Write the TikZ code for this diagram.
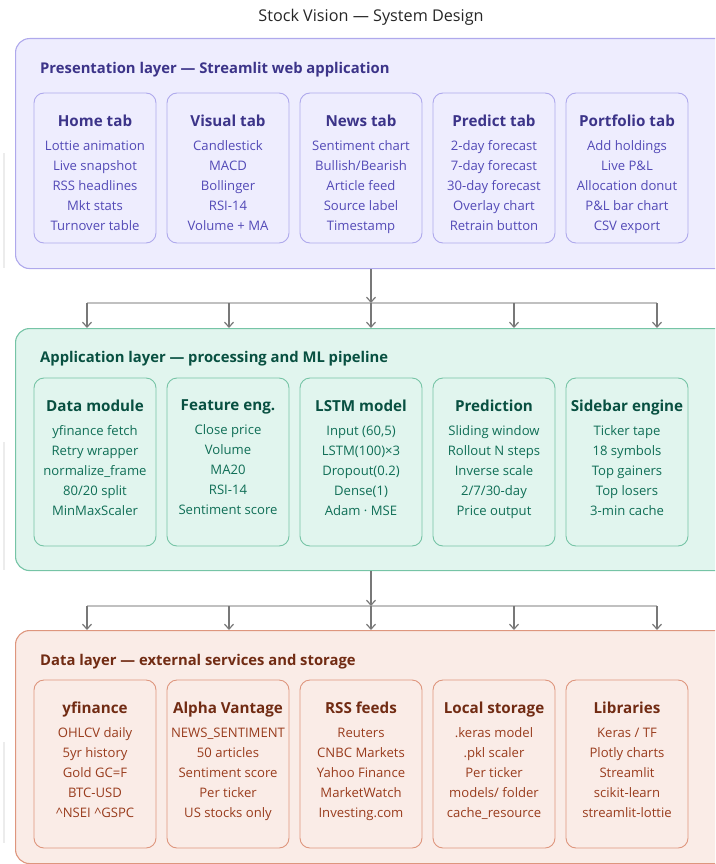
\documentclass[tikz,border=0pt]{standalone}
\usepackage{fontspec}
\setmainfont{Open Sans}
\usetikzlibrary{arrows.meta, positioning}
\definecolor{presfill}{RGB}{238,237,254}
\definecolor{presline}{RGB}{175,169,236}
\definecolor{preshead}{RGB}{60,52,137}
\definecolor{prestext}{RGB}{83,74,183}
\definecolor{appfill}{RGB}{225,245,238}
\definecolor{appline}{RGB}{118,196,166}
\definecolor{apphead}{RGB}{8,80,65}
\definecolor{apptext}{RGB}{15,110,86}
\definecolor{datafill}{RGB}{250,236,231}
\definecolor{dataline}{RGB}{222,150,126}
\definecolor{datahead}{RGB}{113,43,19}
\definecolor{datatext}{RGB}{153,60,29}
\definecolor{flowgray}{RGB}{120,120,120}
\definecolor{busgray}{RGB}{192,192,192}
\newcommand{\cardhead}[2]{{\color{#1}\bfseries\fontsize{15.2}{20}\selectfont #2}}

\begin{document}
\begin{tikzpicture}[x=1pt, y=-1pt,
  layer/.style={draw, rounded corners=14pt, line width=1.1pt, minimum width=740pt, anchor=north west, inner sep=0pt},
  card/.style={draw, rounded corners=10pt, line width=0.9pt, minimum width=122pt, minimum height=#1, inner sep=0pt},
  card/.default=168pt,
  cardtxt/.style={align=center, inner sep=0pt, font=\fontsize{13.1}{20}\selectfont},
  laytitle/.style={anchor=west, inner sep=0pt, font=\bfseries\fontsize{14.8}{18}\selectfont},
  flow/.style={-{Straight Barb[length=5pt, width=9pt]}, line width=1.2pt, flowgray},
  bus/.style={line width=1.2pt, busgray}
]
\useasboundingbox (0,0) rectangle (715,864);
\clip (0,0) rectangle (715,864);

\node[font=\fontsize{16.2}{18}\selectfont, text=black!85] (title) at (371,17) {Stock Vision — System Design};

% faint marks on the left edge
\draw[gray!15, line width=1.5pt] (4,153) -- (4,268);
\draw[gray!15, line width=1.5pt] (4,442) -- (4,570);
\draw[gray!15, line width=1.5pt] (4,742) -- (4,843);

% presentation layer
\node[layer, fill=presfill, draw=presline, minimum height=230pt] (pres) at (15,38) {};
\node[laytitle, text=preshead] (prestitle) at (40,70) {Presentation layer — Streamlit web application};

\node[card=150pt, fill=presfill, draw=presline] (home) at (95,168) {};
\node[cardtxt, text=prestext, below=22pt of home.north] (hometxt)
  {\cardhead{preshead}{Home tab}\\[4pt] Lottie animation\\ Live snapshot\\ RSS headlines\\ Mkt stats\\ Turnover table};
\node[card=150pt, fill=presfill, draw=presline] (visual) at (228,168) {};
\node[cardtxt, text=prestext, below=22pt of visual.north] (visualtxt)
  {\cardhead{preshead}{Visual tab}\\[4pt] Candlestick\\ MACD\\ Bollinger\\ RSI-14\\ Volume + MA};
\node[card=150pt, fill=presfill, draw=presline] (news) at (361,168) {};
\node[cardtxt, text=prestext, below=22pt of news.north] (newstxt)
  {\cardhead{preshead}{News tab}\\[4pt] Sentiment chart\\ Bullish/Bearish\\ Article feed\\ Source label\\ Timestamp};
\node[card=150pt, fill=presfill, draw=presline] (predict) at (494,168) {};
\node[cardtxt, text=prestext, below=22pt of predict.north] (predicttxt)
  {\cardhead{preshead}{Predict tab}\\[4pt] 2-day forecast\\ 7-day forecast\\ 30-day forecast\\ Overlay chart\\ Retrain button};
\node[card=150pt, fill=presfill, draw=presline] (portfolio) at (627,168) {};
\node[cardtxt, text=prestext, below=22pt of portfolio.north] (portfoliotxt)
  {\cardhead{preshead}{Portfolio tab}\\[4pt] Add holdings\\ Live P\&L\\ Allocation donut\\ P\&L bar chart\\ CSV export};

% application layer
\node[layer, fill=appfill, draw=appline, minimum height=242pt] (app) at (15,328) {};
\node[laytitle, text=apphead] (apptitle) at (40,359) {Application layer — processing and ML pipeline};

\node[card, fill=appfill, draw=appline] (datamod) at (95,462) {};
\node[cardtxt, text=apptext, below=22pt of datamod.north] (datamodtxt)
  {\cardhead{apphead}{Data module}\\[4pt] yfinance fetch\\ Retry wrapper\\ normalize\_frame\\ 80/20 split\\ MinMaxScaler};
\node[card, fill=appfill, draw=appline] (feature) at (228,462) {};
\node[cardtxt, text=apptext, below=22pt of feature.north] (featuretxt)
  {\cardhead{apphead}{Feature eng.}\\[4pt] Close price\\ Volume\\ MA20\\ RSI-14\\ Sentiment score};
\node[card, fill=appfill, draw=appline] (lstm) at (361,462) {};
\node[cardtxt, text=apptext, below=22pt of lstm.north] (lstmtxt)
  {\cardhead{apphead}{LSTM model}\\[4pt] Input (60,5)\\ LSTM(100)×3\\ Dropout(0.2)\\ Dense(1)\\ Adam · MSE};
\node[card, fill=appfill, draw=appline] (prediction) at (494,462) {};
\node[cardtxt, text=apptext, below=22pt of prediction.north] (predictiontxt)
  {\cardhead{apphead}{Prediction}\\[4pt] Sliding window\\ Rollout N steps\\ Inverse scale\\ 2/7/30-day\\ Price output};
\node[card, fill=appfill, draw=appline] (sidebar) at (627,462) {};
\node[cardtxt, text=apptext, below=22pt of sidebar.north] (sidebartxt)
  {\cardhead{apphead}{Sidebar engine}\\[4pt] Ticker tape\\ 18 symbols\\ Top gainers\\ Top losers\\ 3-min cache};

% data layer
\node[layer, fill=datafill, draw=dataline, minimum height=233pt] (data) at (15,630) {};
\node[laytitle, text=datahead] (datatitle) at (40,662) {Data layer — external services and storage};

\node[card, fill=datafill, draw=dataline] (yfin) at (95,764) {};
\node[cardtxt, text=datatext, below=22pt of yfin.north] (yfintxt)
  {\cardhead{datahead}{yfinance}\\[4pt] OHLCV daily\\ 5yr history\\ Gold GC=F\\ BTC-USD\\ \^{}NSEI \^{}GSPC};
\node[card, fill=datafill, draw=dataline] (alpha) at (228,764) {};
\node[cardtxt, text=datatext, below=22pt of alpha.north] (alphatxt)
  {\cardhead{datahead}{Alpha Vantage}\\[4pt] NEWS\_SENTIMENT\\ 50 articles\\ Sentiment score\\ Per ticker\\ US stocks only};
\node[card, fill=datafill, draw=dataline] (rss) at (361,764) {};
\node[cardtxt, text=datatext, below=22pt of rss.north] (rsstxt)
  {\cardhead{datahead}{RSS feeds}\\[4pt] Reuters\\ CNBC Markets\\ Yahoo Finance\\ MarketWatch\\ Investing.com};
\node[card, fill=datafill, draw=dataline] (local) at (494,764) {};
\node[cardtxt, text=datatext, below=22pt of local.north] (localtxt)
  {\cardhead{datahead}{Local storage}\\[4pt] .keras model\\ .pkl scaler\\ Per ticker\\ models/ folder\\ cache\_resource};
\node[card, fill=datafill, draw=dataline] (libs) at (627,764) {};
\node[cardtxt, text=datatext, below=22pt of libs.north] (libstxt)
  {\cardhead{datahead}{Libraries}\\[4pt] Keras / TF\\ Plotly charts\\ Streamlit\\ scikit-learn\\ streamlit-lottie};

% presentation -> application
\coordinate (bus1) at (371,303);
\coordinate (b1a) at (87,303);
\coordinate (b1b) at (229,303);
\coordinate (b1c) at (371,303);
\coordinate (b1d) at (514,303);
\coordinate (b1e) at (657,303);
\draw[bus] (b1a) -- (b1e);
\draw[flow] (bus1 |- pres.south) -- (bus1);
\draw[flow] (b1a) -- (b1a |- app.north);
\draw[flow] (b1b) -- (b1b |- app.north);
\draw[flow] (b1c) -- (b1c |- app.north);
\draw[flow] (b1d) -- (b1d |- app.north);
\draw[flow] (b1e) -- (b1e |- app.north);

% application -> data
\coordinate (bus2) at (371,606);
\coordinate (b2a) at (87,606);
\coordinate (b2b) at (229,606);
\coordinate (b2c) at (371,606);
\coordinate (b2d) at (514,606);
\coordinate (b2e) at (657,606);
\draw[bus] (b2a) -- (b2e);
\draw[flow] (bus2 |- app.south) -- (bus2);
\draw[flow] (b2a) -- (b2a |- data.north);
\draw[flow] (b2b) -- (b2b |- data.north);
\draw[flow] (b2c) -- (b2c |- data.north);
\draw[flow] (b2d) -- (b2d |- data.north);
\draw[flow] (b2e) -- (b2e |- data.north);
\end{tikzpicture}
\end{document}
